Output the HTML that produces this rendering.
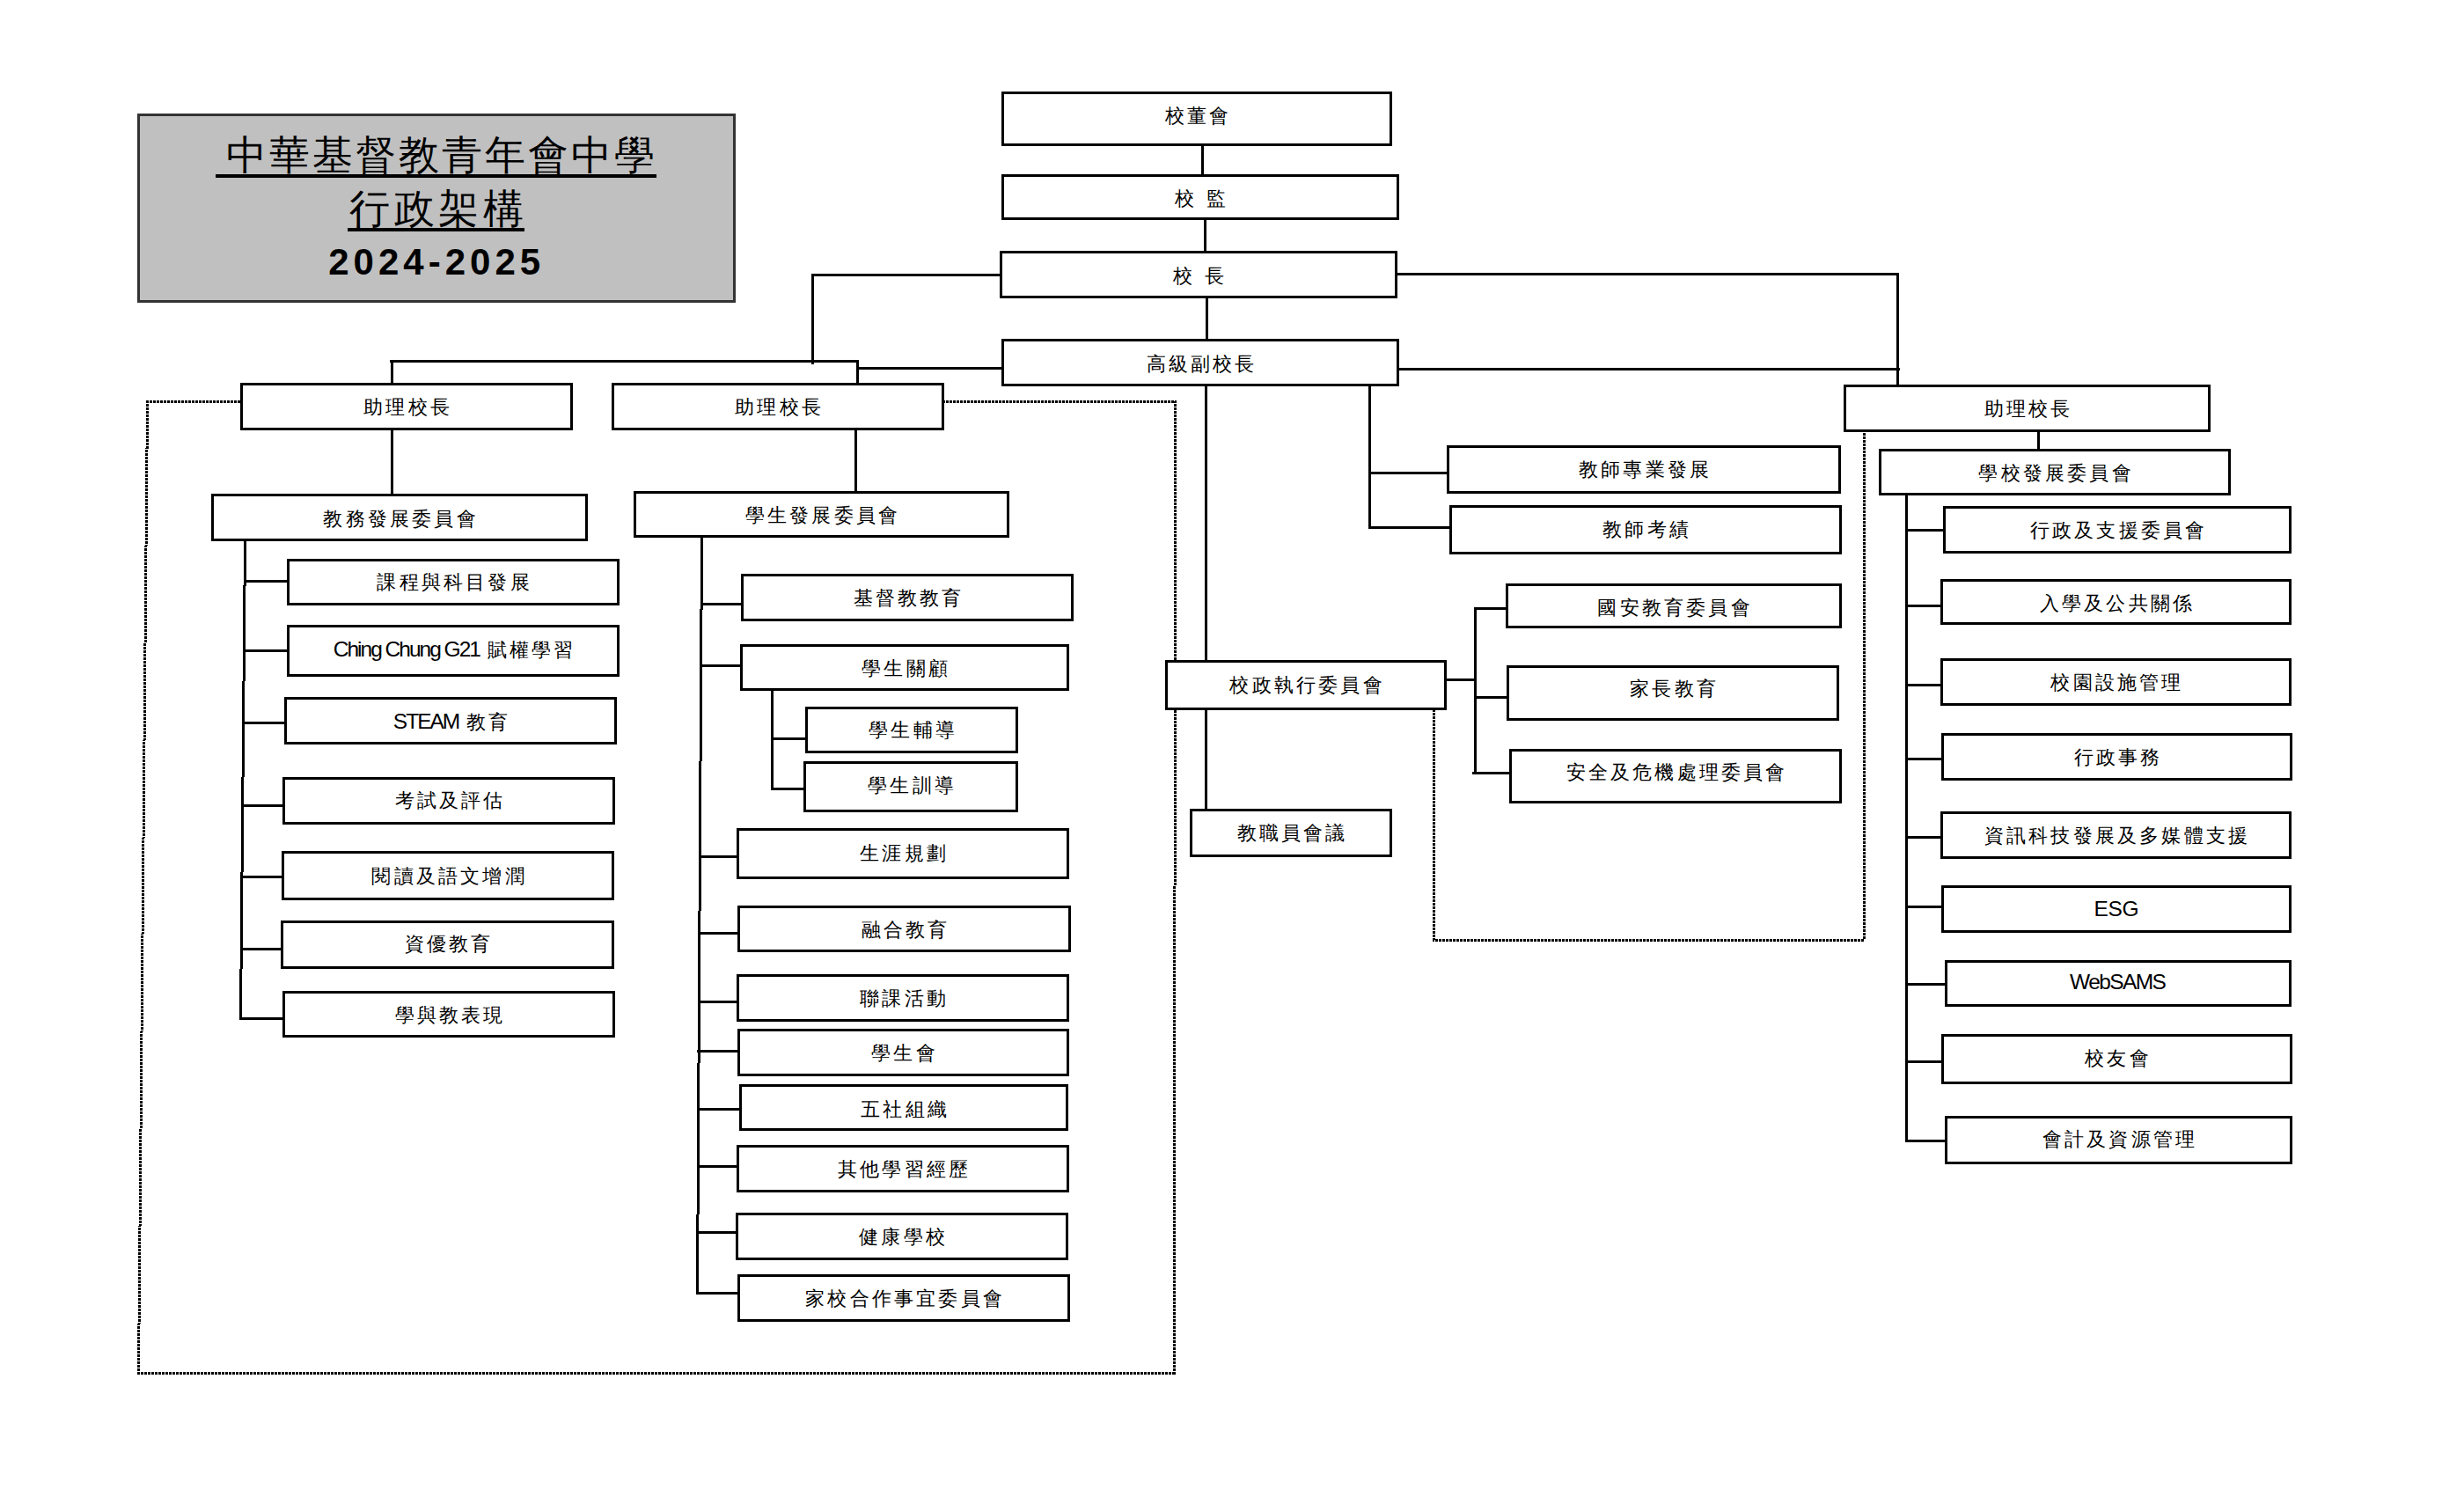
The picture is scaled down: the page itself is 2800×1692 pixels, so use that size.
<!DOCTYPE html>
<html lang="zh-Hant"><head><meta charset="utf-8"><style>
html,body{margin:0;padding:0;background:#fff;}
body{width:2800px;height:1692px;position:relative;overflow:hidden;font-family:"Liberation Serif",serif;}
.b{position:absolute;box-sizing:border-box;border:3px solid #000;background:#fff;}
.b p{position:absolute;left:0;right:0;margin:0;text-align:center;font-size:22px;letter-spacing:3.2px;text-indent:3.2px;white-space:nowrap;line-height:22px;height:22px;color:#000;font-weight:350;}
.lat{font-family:"Liberation Sans",sans-serif;font-size:24.5px;font-weight:400;}
svg{position:absolute;left:0;top:0;}
#title{position:absolute;left:156px;top:129px;width:680px;height:215px;box-sizing:border-box;border:3px solid #333;background:#c0c0c0;}
.tt{position:absolute;left:0;width:100%;text-align:center;line-height:1;color:#000;white-space:nowrap;}
.ul{position:absolute;height:4px;background:#000;}
</style></head><body>
<svg width="2800" height="1692">
<g stroke="#000" stroke-width="3" fill="none" stroke-linecap="square" shape-rendering="crispEdges">
<line x1="1366.5" y1="165" x2="1366.5" y2="198"/><line x1="1369" y1="249" x2="1369" y2="285"/><line x1="1371" y1="338" x2="1371" y2="385"/><line x1="923" y1="312" x2="1137" y2="312"/><line x1="923" y1="312" x2="923" y2="412"/><line x1="444" y1="410.5" x2="974.5" y2="410.5"/><line x1="445.5" y1="410" x2="445.5" y2="436"/><line x1="974.5" y1="410" x2="974.5" y2="436"/><line x1="974.5" y1="418" x2="1138" y2="418"/><line x1="445.5" y1="488" x2="445.5" y2="562"/><line x1="972" y1="487" x2="972" y2="559"/><line x1="1587" y1="311.5" x2="2156" y2="311.5"/><line x1="2156" y1="311.5" x2="2156" y2="437"/><line x1="1589" y1="419" x2="2157" y2="419"/><line x1="2316.5" y1="490" x2="2316.5" y2="511"/><line x1="1370" y1="437" x2="1370" y2="751"/><line x1="1370" y1="805" x2="1370" y2="920"/><line x1="1556.5" y1="437" x2="1556.5" y2="599"/><line x1="1556.5" y1="537" x2="1644" y2="537"/><line x1="1556.5" y1="599" x2="1647" y2="599"/><line x1="1643" y1="772.4" x2="1676" y2="772.4"/><line x1="1676" y1="691.6" x2="1676" y2="878.6"/><line x1="1676" y1="691.6" x2="1711" y2="691.6"/><line x1="1676" y1="792.3" x2="1712" y2="792.3"/><line x1="1674" y1="878.6" x2="1715" y2="878.6"/><line x1="278.5" y1="614" x2="273.5" y2="1157"/><line x1="278" y1="660" x2="326" y2="660"/><line x1="278" y1="739.5" x2="326" y2="739.5"/><line x1="277" y1="821.5" x2="323" y2="821.5"/><line x1="277" y1="915.1" x2="321" y2="915.1"/><line x1="275" y1="996.4" x2="320" y2="996.4"/><line x1="274.5" y1="1078" x2="319" y2="1078"/><line x1="273.5" y1="1157" x2="321" y2="1157"/><line x1="797.5" y1="610" x2="792.5" y2="1469.4"/><line x1="797" y1="686.3" x2="842" y2="686.3"/><line x1="797" y1="756.2" x2="841" y2="756.2"/><line x1="796" y1="973.3" x2="837" y2="973.3"/><line x1="795" y1="1060.6" x2="838" y2="1060.6"/><line x1="795" y1="1138.2" x2="837" y2="1138.2"/><line x1="793" y1="1194.5" x2="838" y2="1194.5"/><line x1="794" y1="1260.3" x2="840" y2="1260.3"/><line x1="793" y1="1325.2" x2="837" y2="1325.2"/><line x1="793" y1="1400.7" x2="836" y2="1400.7"/><line x1="792" y1="1469.4" x2="838" y2="1469.4"/><line x1="877.5" y1="784" x2="877.5" y2="896.8"/><line x1="877.5" y1="839.4" x2="915" y2="839.4"/><line x1="877.5" y1="896.8" x2="913" y2="896.8"/><line x1="2166.5" y1="562" x2="2166.5" y2="1296.5"/><line x1="2166.5" y1="602.3" x2="2208" y2="602.3"/><line x1="2166.5" y1="688.9" x2="2205" y2="688.9"/><line x1="2166.5" y1="778.6" x2="2205" y2="778.6"/><line x1="2166.5" y1="862" x2="2206" y2="862"/><line x1="2166.5" y1="951" x2="2205" y2="951"/><line x1="2166.5" y1="1030.3" x2="2206" y2="1030.3"/><line x1="2166.5" y1="1118.7" x2="2210" y2="1118.7"/><line x1="2166.5" y1="1206.3" x2="2206" y2="1206.3"/><line x1="2166.5" y1="1296.5" x2="2210" y2="1296.5"/>
</g>
<g stroke="#000" stroke-width="3" fill="none" stroke-dasharray="3 1" shape-rendering="crispEdges">
<path d="M273,456.5 L167.5,456.5 L157.5,1560 L1334.5,1560 L1335.5,456 L1073,456"/><path d="M1629,806 L1629,1068 L2118,1068 L2118,491"/>
</g>
</svg>
<div id="title">
<div class="tt" style="top:21.5px;font-size:46px;letter-spacing:3.05px;text-indent:12px">中華基督教青年會中學</div>
<div class="ul" style="left:86px;top:66px;width:501px"></div>
<div class="tt" style="top:82.5px;font-size:46px;letter-spacing:4.9px;text-indent:4.9px">行政架構</div>
<div class="ul" style="left:236px;top:127px;width:201px"></div>
<div class="tt" style="top:144.5px;left:-2.3px;font-family:'Liberation Sans',sans-serif;font-weight:bold;font-size:42px;letter-spacing:5px;text-indent:5px">2024-2025</div>
</div>
<div class="b" style="left:1138px;top:104px;width:444px;height:62px"><p style="top:14.00px">校董會</p></div><div class="b" style="left:1138px;top:198px;width:452px;height:52px"><p style="top:14.00px">校<i style="display:inline-block;width:10.5px"></i>監</p></div><div class="b" style="left:1136px;top:285px;width:452px;height:54px"><p style="top:14.50px">校<i style="display:inline-block;width:10.5px"></i>長</p></div><div class="b" style="left:1138px;top:385px;width:452px;height:54px"><p style="top:14.50px">高級副校長</p></div><div class="b" style="left:273px;top:435px;width:378px;height:54px"><p style="top:14.00px">助理校長</p></div><div class="b" style="left:695px;top:435px;width:378px;height:54px"><p style="top:13.50px">助理校長</p></div><div class="b" style="left:240px;top:561px;width:428px;height:54px"><p style="top:14.75px">教務發展委員會</p></div><div class="b" style="left:720px;top:558px;width:427px;height:53px"><p style="top:14.25px">學生發展委員會</p></div><div class="b" style="left:326px;top:635px;width:378px;height:53px"><p style="top:13.00px">課程與科目發展</p></div><div class="b" style="left:326px;top:710px;width:378px;height:59px"><p style="top:14.30px"><span class="lat" style="letter-spacing:-2px">Ching Chung G21</span> 賦權學習</p></div><div class="b" style="left:323px;top:792px;width:378px;height:54px"><p style="top:14.40px"><span class="lat" style="letter-spacing:-2px">STEAM</span> 教育</p></div><div class="b" style="left:321px;top:883px;width:378px;height:54px"><p style="top:13.10px">考試及評估</p></div><div class="b" style="left:320px;top:967px;width:378px;height:56px"><p style="top:14.80px">閱讀及語文增潤</p></div><div class="b" style="left:319px;top:1046px;width:379px;height:55px"><p style="top:13.10px">資優教育</p></div><div class="b" style="left:321px;top:1126px;width:378px;height:53px"><p style="top:14.20px">學與教表現</p></div><div class="b" style="left:842px;top:652px;width:378px;height:54px"><p style="top:14.10px">基督教教育</p></div><div class="b" style="left:841px;top:732px;width:374px;height:53px"><p style="top:13.50px">學生關顧</p></div><div class="b" style="left:915px;top:803px;width:242px;height:53px"><p style="top:13.10px">學生輔導</p></div><div class="b" style="left:913px;top:865px;width:244px;height:58px"><p style="top:13.50px">學生訓導</p></div><div class="b" style="left:837px;top:941px;width:378px;height:58px"><p style="top:14.70px">生涯規劃</p></div><div class="b" style="left:838px;top:1029px;width:379px;height:53px"><p style="top:14.30px">融合教育</p></div><div class="b" style="left:837px;top:1107px;width:378px;height:54px"><p style="top:14.30px">聯課活動</p></div><div class="b" style="left:838px;top:1169px;width:377px;height:54px"><p style="top:14.10px">學生會</p></div><div class="b" style="left:840px;top:1232px;width:374px;height:53px"><p style="top:14.70px">五社組織</p></div><div class="b" style="left:837px;top:1301px;width:378px;height:54px"><p style="top:13.50px">其他學習經歷</p></div><div class="b" style="left:836px;top:1378px;width:378px;height:54px"><p style="top:14.10px">健康學校</p></div><div class="b" style="left:838px;top:1448px;width:378px;height:54px"><p style="top:13.50px">家校合作事宜委員會</p></div><div class="b" style="left:1324px;top:750px;width:320px;height:57px"><p style="top:14.50px">校政執行委員會</p></div><div class="b" style="left:1352px;top:919px;width:230px;height:55px"><p style="top:14.10px">教職員會議</p></div><div class="b" style="left:1644px;top:506px;width:448px;height:55px"><p style="top:13.60px">教師專業發展</p></div><div class="b" style="left:1647px;top:574px;width:446px;height:56px"><p style="top:14.30px">教師考績</p></div><div class="b" style="left:1711px;top:663px;width:382px;height:51px"><p style="top:14.10px">國安教育委員會</p></div><div class="b" style="left:1712px;top:756px;width:378px;height:63px"><p style="top:12.70px">家長教育</p></div><div class="b" style="left:1715px;top:851px;width:378px;height:62px"><p style="top:12.60px">安全及危機處理委員會</p></div><div class="b" style="left:2095px;top:437px;width:417px;height:54px"><p style="top:14.10px">助理校長</p></div><div class="b" style="left:2135px;top:510px;width:400px;height:53px"><p style="top:13.80px">學校發展委員會</p></div><div class="b" style="left:2208px;top:575px;width:396px;height:54px"><p style="top:14.10px">行政及支援委員會</p></div><div class="b" style="left:2205px;top:658px;width:399px;height:52px"><p style="top:13.50px">入學及公共關係</p></div><div class="b" style="left:2205px;top:748px;width:399px;height:54px"><p style="top:14.10px">校園設施管理</p></div><div class="b" style="left:2206px;top:833px;width:399px;height:54px"><p style="top:14.10px">行政事務</p></div><div class="b" style="left:2205px;top:922px;width:399px;height:54px"><p style="top:14.20px">資訊科技發展及多媒體支援</p></div><div class="b" style="left:2206px;top:1006px;width:398px;height:54px"><p style="top:12.50px;text-indent:-0.3px"><span class="lat" style="letter-spacing:-0.3px">ESG</span></p></div><div class="b" style="left:2210px;top:1091px;width:394px;height:53px"><p style="top:11.40px;text-indent:-1.6px"><span class="lat" style="letter-spacing:-1.6px">WebSAMS</span></p></div><div class="b" style="left:2206px;top:1175px;width:399px;height:57px"><p style="top:13.60px">校友會</p></div><div class="b" style="left:2210px;top:1268px;width:395px;height:55px"><p style="top:12.80px">會計及資源管理</p></div>
</body></html>
